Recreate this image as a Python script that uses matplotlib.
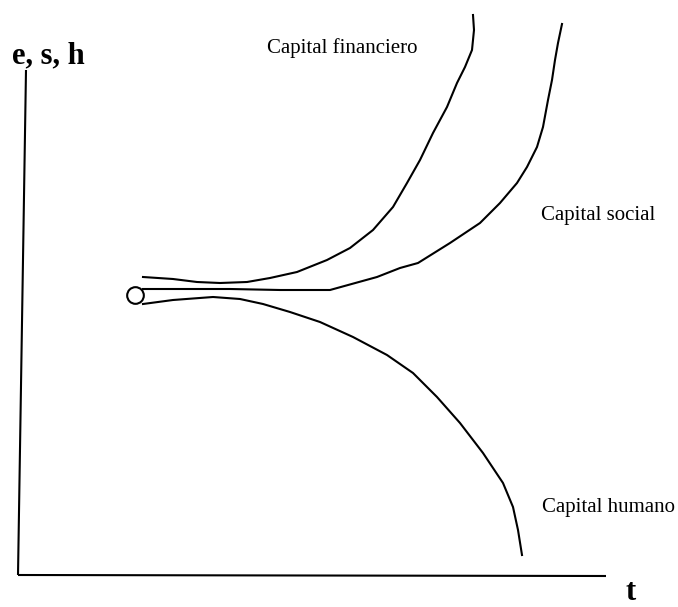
import matplotlib
matplotlib.use("Agg")
import matplotlib.pyplot as plt

# esquema en coordenadas de la imagen (x a la derecha, y hacia abajo)
fin_x = [143, 173, 197, 220, 247, 270, 297, 317, 327, 350, 373, 393, 407,
         420, 433, 447, 457, 465, 472, 474, 473]
fin_y = [277, 279, 282, 283, 282, 278, 272, 264, 260, 248, 230, 207, 183,
         160, 133, 107, 83, 67, 50, 30, 15]

soc_x = [143, 230, 280, 330, 377, 400, 418, 450, 480, 500, 517, 527, 537,
         543, 548, 552, 555, 558, 562]
soc_y = [289, 289, 290, 290, 277, 268, 263, 243, 223, 203, 183, 167, 147,
         127, 100, 80, 60, 43, 24]

hum_x = [143, 173, 213, 240, 263, 290, 320, 353, 387, 413, 437, 460, 483,
         503, 513, 518, 522]
hum_y = [304, 300, 297, 299, 304, 312, 322, 337, 355, 373, 397, 423, 453,
         483, 507, 530, 555]

origen = (135, 295)
eje_y = ([26, 18], [70, 575])
eje_x = ([18, 606], [575, 576])

etiquetas = [
    ("Capital financiero", 267, 53),
    ("Capital social", 541, 220),
    ("Capital humano", 542, 512),
]

plt.rcParams['font.family'] = ['Liberation Serif', 'DejaVu Serif']

fig = plt.figure(figsize=(6.78, 6.07), dpi=100)
ax = fig.add_axes([0, 0, 1, 1])
ax.set_xlim(0, 678)
ax.set_ylim(607, 0)
ax.axis('off')

ax.plot(*eje_y, color='black', lw=1.5, solid_capstyle='butt')
ax.plot(*eje_x, color='black', lw=1.5, solid_capstyle='butt')

for xs, ys in [(fin_x, fin_y), (soc_x, soc_y), (hum_x, hum_y)]:
    ax.plot(xs, ys, color='black', lw=1.5, solid_joinstyle='round')

ax.plot(*origen, 'o', markersize=12, markerfacecolor='white',
        markeredgecolor='black', markeredgewidth=1.5)

for txt, x, y in etiquetas:
    ax.text(x, y, txt, fontsize=15, ha='left', va='baseline')

ax.text(12, 63, "e, s, h", fontsize=22, fontweight='bold', ha='left', va='baseline')
ax.text(626, 600, "t", fontsize=22, fontweight='bold', ha='left', va='baseline')

fig.savefig("out.png", dpi=100)
